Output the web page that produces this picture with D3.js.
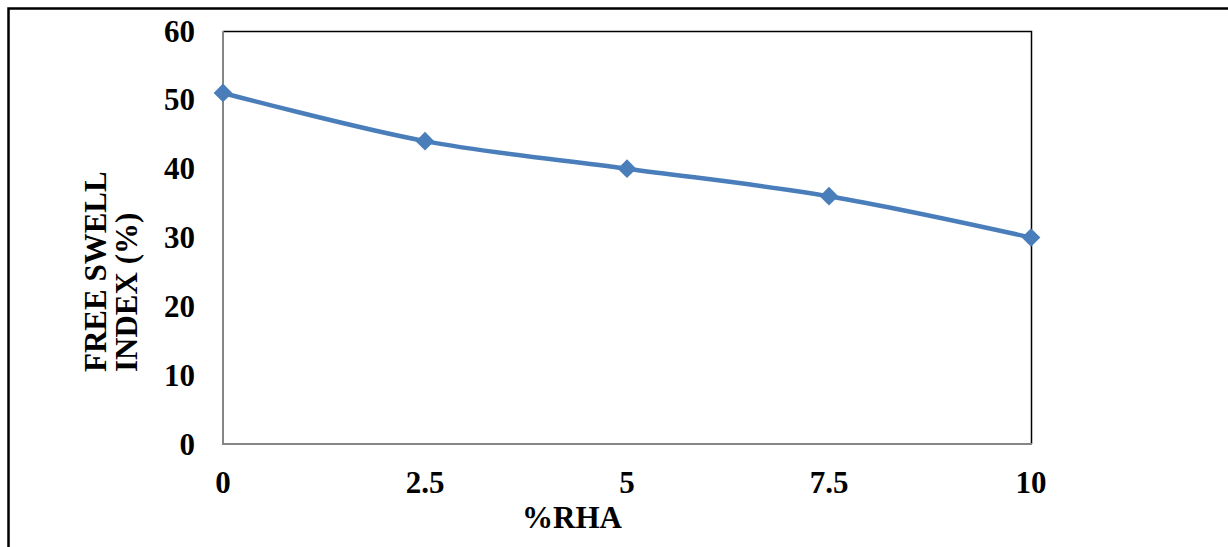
<!DOCTYPE html>
<html>
<head>
<meta charset="utf-8">
<script src="https://cdn.jsdelivr.net/npm/d3@7"></script>
<style>
  html, body { margin: 0; padding: 0; background: #fff; }
  svg { display: block; }
</style>
</head>
<body>
<svg id="chart"></svg>
<script>
const rhaValues = [0, 2.5, 5, 7.5, 10];
const swellValues = [51, 44, 40, 36, 30];
const xTickLabels = ['0', '2.5', '5', '7.5', '10'];
const yTicks = [0, 10, 20, 30, 40, 50, 60];

const width = 1228;
const height = 547;
const plot = { left: 223, top: 31, right: 1031, bottom: 444 };
const font = "'Liberation Serif', 'Times New Roman', serif";
const fontSize = '31px';

const svg = d3.select('#chart').attr('width', width).attr('height', height);

// outer frame
svg.append('rect')
  .attr('x', 8.5).attr('y', 8.5)
  .attr('width', 1240).attr('height', 600)
  .attr('fill', 'none').attr('stroke', '#000').attr('stroke-width', 2.5);

const x = d3.scaleLinear().domain([0, 10]).range([plot.left, plot.right]);
const y = d3.scaleLinear().domain([0, 60]).range([plot.bottom, plot.top]);

// plot area border (top / right)
svg.append('path')
  .attr('d', `M${plot.left},${plot.top + 0.5}H${plot.right + 0.5}V${plot.bottom}`)
  .attr('fill', 'none').attr('stroke', '#000').attr('stroke-width', 1.5);

// axis lines
svg.append('path')
  .attr('d', `M${plot.left},${plot.top}V${plot.bottom}H${plot.right + 1}`)
  .attr('fill', 'none').attr('stroke', '#868686').attr('stroke-width', 2);

// y tick labels
svg.append('g').selectAll('text')
  .data(yTicks)
  .join('text')
  .attr('x', 195)
  .attr('y', d => y(d))
  .attr('dy', '0.34em')
  .attr('text-anchor', 'end')
  .attr('font-family', font)
  .attr('font-weight', 'bold')
  .attr('font-size', fontSize)
  .text(d => d);

// x tick labels
svg.append('g').selectAll('text')
  .data(rhaValues)
  .join('text')
  .attr('x', d => x(d))
  .attr('y', 493)
  .attr('text-anchor', 'middle')
  .attr('font-family', font)
  .attr('font-weight', 'bold')
  .attr('font-size', fontSize)
  .text((d, i) => xTickLabels[i]);

// axis titles
svg.append('text')
  .attr('x', 572).attr('y', 528)
  .attr('text-anchor', 'middle')
  .attr('font-family', font).attr('font-weight', 'bold').attr('font-size', fontSize)
  .text('%RHA');

const yTitle = svg.append('text')
  .attr('transform', 'translate(0,372) rotate(-90)')
  .attr('text-anchor', 'start')
  .attr('font-family', font).attr('font-weight', 'bold').attr('font-size', fontSize);
yTitle.append('tspan').attr('x', 0).attr('y', 106).text('FREE SWELL');
yTitle.append('tspan').attr('x', 0).attr('y', 137).text('INDEX (%)');

// series
const points = rhaValues.map((v, i) => [v, swellValues[i]]);
const line = d3.line()
  .x(d => x(d[0]))
  .y(d => y(d[1]))
  .curve(d3.curveCatmullRom.alpha(0.5));

svg.append('path')
  .datum(points)
  .attr('d', line)
  .attr('fill', 'none')
  .attr('stroke', '#4a7ebb')
  .attr('stroke-width', 4.5);

const marker = d3.symbol().type(d3.symbolSquare).size(175);
svg.append('g').selectAll('path')
  .data(points)
  .join('path')
  .attr('transform', d => `translate(${x(d[0])},${y(d[1])}) rotate(45)`)
  .attr('d', marker)
  .attr('fill', '#4a7ebb');
</script>
</body>
</html>
